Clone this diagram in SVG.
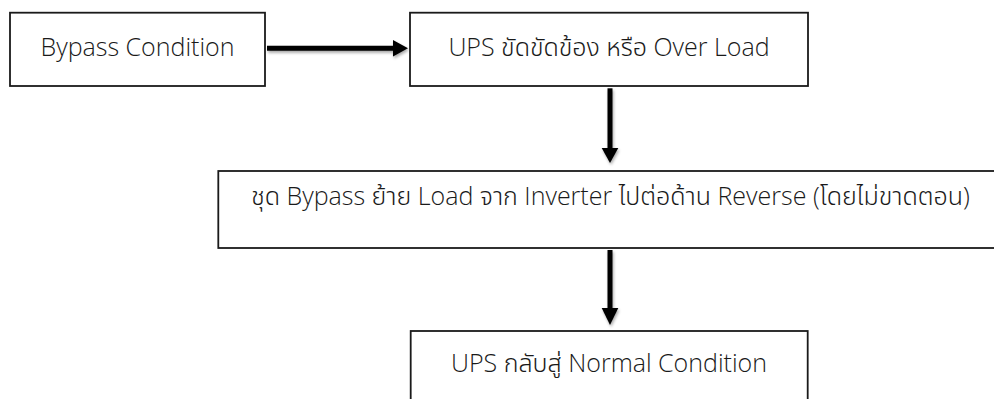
<svg xmlns="http://www.w3.org/2000/svg" width="994" height="399" viewBox="0 0 994 399">
<style>
.box{fill:#fff;stroke:#1a1a1a;stroke-width:1.8}
.lbl{font-family:"Open Sans","Noto Sans","Noto Sans Thai",sans-serif;font-weight:300;font-size:25px;fill:#1a1a1a;text-anchor:middle}
.conn{stroke:#000;stroke-width:5;fill:none}
.head{fill:#000}
</style>
<defs>
<filter id="sh" x="-20%" y="-20%" width="140%" height="160%">
<feGaussianBlur in="SourceAlpha" stdDeviation="1.5"/>
<feOffset dx="1" dy="2" result="b"/>
<feComponentTransfer><feFuncA type="linear" slope="0.35"/></feComponentTransfer>
<feMerge><feMergeNode/><feMergeNode in="SourceGraphic"/></feMerge>
</filter>
</defs>
<rect width="994" height="399" fill="#fff"/>
<g id="node-bypass-condition">
<rect class="box" x="10" y="12.7" width="255" height="73.3"/>
<text class="lbl" x="137.5" y="56">Bypass Condition</text>
</g>
<g id="node-ups-fault">
<rect class="box" x="410" y="12.7" width="398" height="73.3"/>
<text class="lbl" x="609" y="56">UPS ขัดขัดข้อง หรือ Over Load</text>
</g>
<g id="node-bypass-transfer">
<rect class="box" x="218.3" y="171" width="800" height="77"/>
<text class="lbl" x="610.5" y="205">ชุด Bypass ย้าย Load จาก Inverter ไปต่อด้าน Reverse (โดยไม่ขาดตอน)</text>
</g>
<g id="node-normal">
<rect class="box" x="410.7" y="331" width="397" height="100"/>
<text class="lbl" x="609" y="372">UPS กลับสู่ Normal Condition</text>
</g>
<g id="connectors" filter="url(#sh)">
<line class="conn" x1="267" y1="48.3" x2="395" y2="48.3"/>
<polygon class="head" points="393,40 408,48.3 393,56.5"/>
<line class="conn" x1="610" y1="88.3" x2="610" y2="150"/>
<polygon class="head" points="601.7,148 618.3,148 610,163"/>
<line class="conn" x1="610" y1="250" x2="610" y2="310"/>
<polygon class="head" points="601.7,308 618.3,308 610,325"/>
</g>
</svg>
